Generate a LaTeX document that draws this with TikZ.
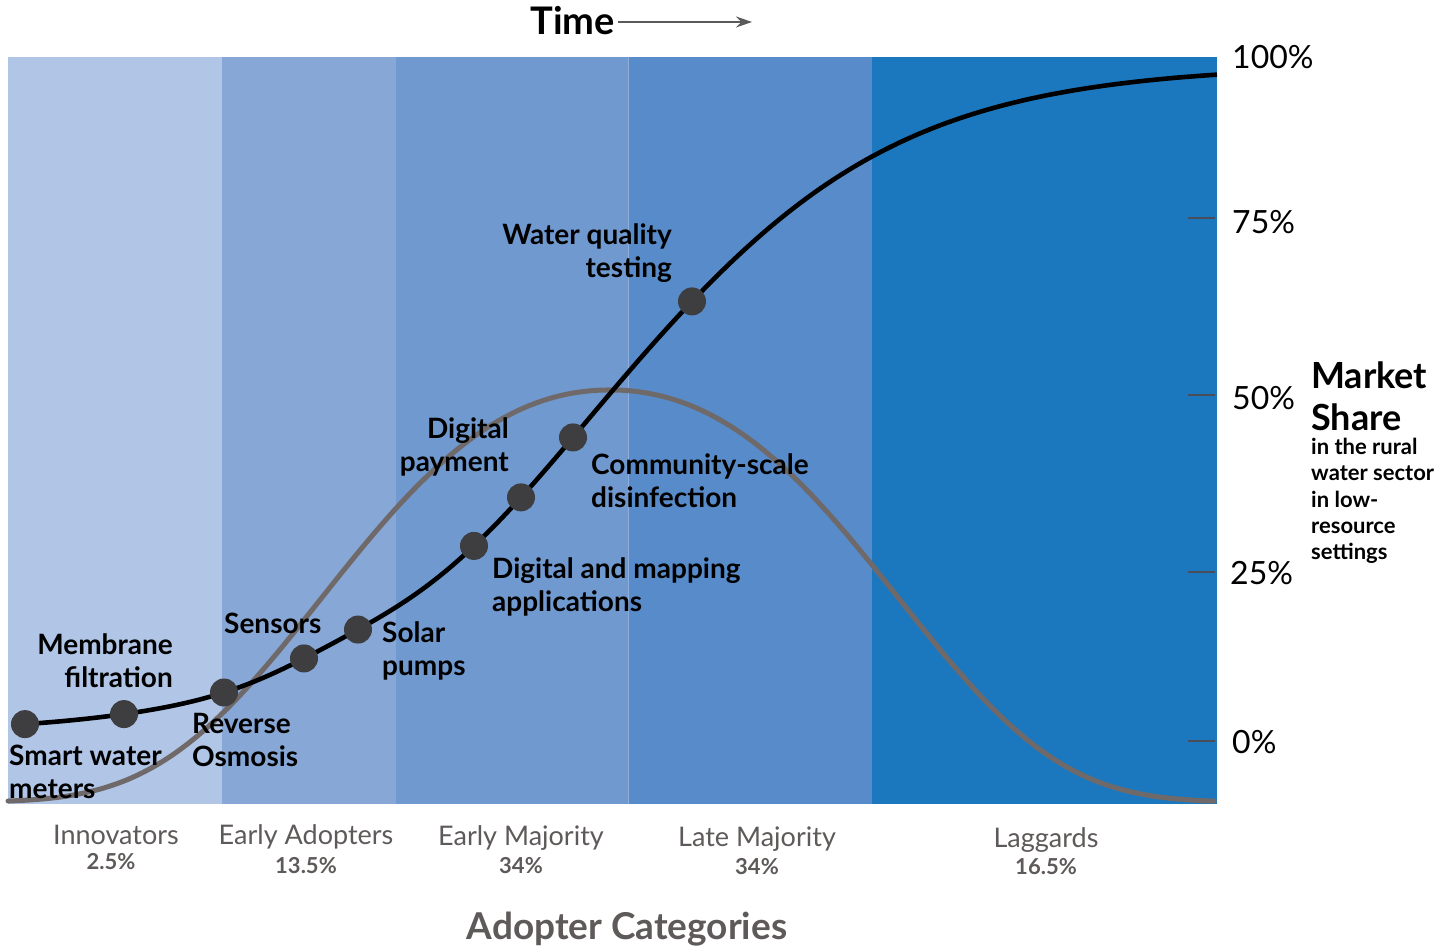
\documentclass[tikz,border=0pt]{standalone}
\usepackage{fontspec}
\setmainfont{Lato}
\usetikzlibrary{arrows.meta}
\definecolor{bandA}{HTML}{B1C5E6}
\definecolor{bandB}{HTML}{87A7D6}
\definecolor{bandC}{HTML}{7099CF}
\definecolor{bandD}{HTML}{588BCA}
\definecolor{bandE}{HTML}{1C78BE}
\definecolor{sepline}{HTML}{8FAEDC}
\definecolor{bellgray}{HTML}{6F6A69}
\definecolor{dotgray}{HTML}{3E3D40}
\definecolor{tickgray}{HTML}{4A4D5A}
\definecolor{labgray}{HTML}{5E5A59}
\definecolor{arrowgray}{HTML}{5A5A5A}
\tikzset{
  lbl/.style={font=\bfseries\fontsize{28}{33}\selectfont, inner sep=0pt, text=black},
  pct/.style={font=\fontsize{32}{36}\selectfont, inner sep=0pt, anchor=west, text=black},
  tick/.style={draw=tickgray, line width=2pt},
  catname/.style={font=\fontsize{27}{30}\selectfont, inner sep=0pt, text=labgray},
  catpct/.style={font=\bfseries\fontsize{22}{24}\selectfont, inner sep=0pt, text=labgray},
  dot/.style={circle, fill=dotgray, minimum size=28pt, inner sep=0pt},
  declare function={
    sS(\x)=141.5+3.5*tanh((\x-605)/100);
    fS(\x)=734-669/(1+exp(-(\x-605)/sS(\x)))-9*exp(-((\x-340)/90)^2);
    tB(\x)=(\x-610)/100;
    fB(\x)=802-412*exp(-tB(\x)^2/(2*(3.076-0.223*abs(tB(\x)))^2));
  },
}
\begin{document}
\begin{tikzpicture}[x=1pt,y=-1pt]
\useasboundingbox (0,0) rectangle (1456,949);
% bands
\fill[bandA] (8,57) rectangle (222,804);
\fill[bandB] (222,57) rectangle (396,804);
\fill[bandC] (396,57) rectangle (628,804);
\fill[bandD] (628,57) rectangle (872,804);
\fill[bandE] (872,57) rectangle (1217,804);
\draw[sepline, line width=1pt] (628.5,57) -- (628.5,804);
% ticks
\foreach \yy in {218,395,572,741} \draw[tick] (1188,\yy) -- (1215,\yy);
% bell curve
\draw[bellgray, line width=5pt, line cap=round] plot[domain=8:1214, samples=161, smooth] (\x,{fB(\x)});
% S curve
\draw[black, line width=4.6pt] plot[domain=25:1217, samples=161, smooth] (\x,{fS(\x)});
% dots
\node[dot] (d1) at (25,{fS(25)}) {};
\node[dot] (d2) at (124,{fS(124)}) {};
\node[dot] (d3) at (224,{fS(224)}) {};
\node[dot] (d4) at (304,{fS(304)}) {};
\node[dot] (d5) at (358,{fS(358)}) {};
\node[dot] (d6) at (474,{fS(474)}) {};
\node[dot] (d7) at (521,{fS(521)}) {};
\node[dot] (d8) at (573,{fS(573)}) {};
\node[dot] (d9) at (692,{fS(692)}) {};
% labels
\node[lbl, anchor=west, align=left] (l1) at (9,772) {Smart water\\meters};
\node[lbl, anchor=east, align=right] (l2) at (173,661) {Membrane\\filtration};
\node[lbl, anchor=west, align=left] (l3) at (192,740) {Reverse\\Osmosis};
\node[lbl, anchor=west] (l4) at (224,623) {Sensors};
\node[lbl, anchor=west, align=left] (l5) at (382,651) {Solar\\pumps};
\node[lbl, anchor=west, align=left] (l6) at (492,587) {Digital and mapping\\applications};
\node[lbl, anchor=east, align=right] (l7) at (509,447) {Digital\\payment};
\node[lbl, anchor=west, align=left] (l8) at (591,481) {Community-scale\\disinfection};
\node[lbl, anchor=east, align=right] (l9) at (672,253) {Water quality\\testing};
% percent axis
\node[pct] (p100) at (1232,57) {100\%};
\node[pct] (p75) at (1232,222) {75\%};
\node[pct] (p50) at (1232,398) {50\%};
\node[pct] (p25) at (1230,573) {25\%};
\node[pct] (p0) at (1232,742) {0\%};
\node[font=\bfseries\fontsize{36}{42}\selectfont, inner sep=0pt, anchor=west, align=left] (ms) at (1311,396) {Market\\Share};
\node[font=\bfseries\fontsize{22}{26.3}\selectfont, inner sep=0pt, anchor=west, align=left] (msub) at (1311,501) {in the rural\\water sector\\in low-\\resource\\settings};
% categories
\node[catname] (c1) at (116,835) {Innovators};
\node[catpct] (c1p) at (111,862) {2.5\%};
\node[catname] (c2) at (306,837) {Early Adopters};
\node[catpct] (c2p) at (306,866) {13.5\%};
\node[catname] (c3) at (521,838) {Early Majority};
\node[catpct] (c3p) at (521,866) {34\%};
\node[catname] (c4) at (757,839) {Late Majority};
\node[catpct] (c4p) at (757,867) {34\%};
\node[catname] (c5) at (1046,840) {Laggards};
\node[catpct] (c5p) at (1046,867) {16.5\%};
\node[font=\bfseries\fontsize{37}{40}\selectfont, inner sep=0pt, text=labgray] (ac) at (627,929) {Adopter Categories};
% time
\node[font=\bfseries\fontsize{38}{40}\selectfont, inner sep=0pt, anchor=east] (time) at (615,21) {Time};
\coordinate (tend) at (752,22);
\draw[arrowgray, line width=1.5pt, -{Stealth[length=16pt, width=11pt]}] (time.east) ++(3,1) -- (tend);
\end{tikzpicture}
\end{document}
